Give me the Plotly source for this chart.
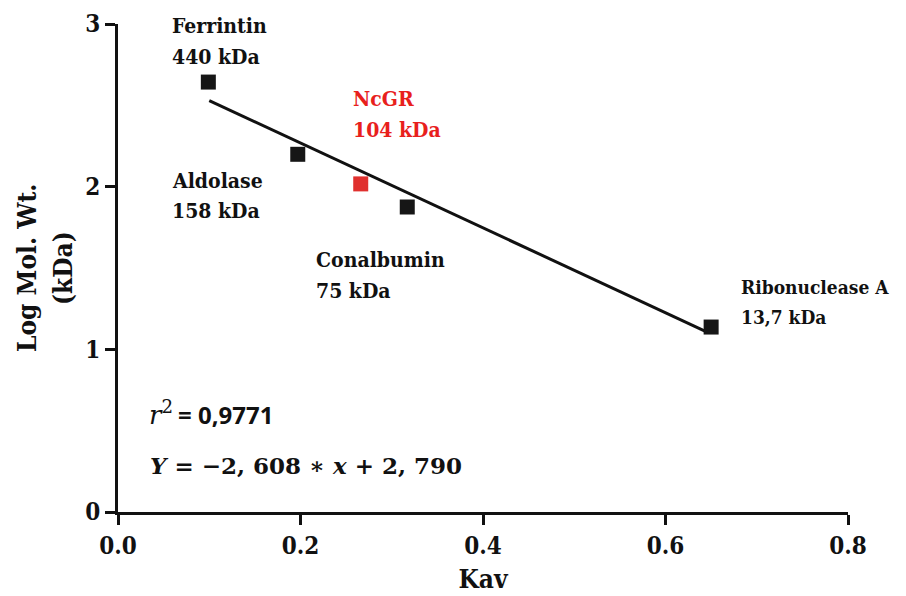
import plotly.graph_objects as go

# Data
proteins = ["Ferrintin", "Aldolase", "NcGR", "Conalbumin", "Ribonuclease A"]
mass_labels = ["440 kDa", "158 kDa", "104 kDa", "75 kDa", "13,7 kDa"]
kav = [0.099, 0.197, 0.266, 0.317, 0.650]
log_mw = [2.643, 2.199, 2.017, 1.875, 1.137]
colors = ["#161616", "#161616", "#e0302e", "#161616", "#161616"]
slope = -2.608
intercept = 2.790
fit_x = [0.1, 0.645]
fit_y = [slope * v + intercept for v in fit_x]

SERIF = "DejaVu Serif Condensed, DejaVu Serif"

fig = go.Figure()
fig.add_trace(go.Scatter(x=fit_x, y=fit_y, mode="lines",
                         line=dict(color="#111111", width=3), showlegend=False,
                         hoverinfo="skip"))
fig.add_trace(go.Scatter(x=kav, y=log_mw, mode="markers",
                         marker=dict(symbol="square", size=15, color=colors),
                         showlegend=False, cliponaxis=False))

label_pos = {
    "Ferrintin": (0.057, 2.99, 21),
    "Aldolase": (0.057, 2.04, 21),
    "NcGR": (0.2555, 2.54, 21),
    "Conalbumin": (0.215, 1.55, 21),
    "Ribonuclease A": (0.681, 1.385, 19),
}
line_gap = 0.187
annotations = []
for name, mass, col in zip(proteins, mass_labels, colors):
    x0, y0, fs = label_pos[name]
    tc = "#e8201c" if name == "NcGR" else "#111111"
    for i, t in enumerate([name, mass]):
        annotations.append(dict(x=x0, y=y0 - i * line_gap, xref="x", yref="y",
                                text=f"<b>{t}</b>", showarrow=False,
                                xanchor="left", yanchor="middle",
                                font=dict(family=SERIF, size=fs, color=tc)))

annotations.append(dict(x=0.032, y=0.61, xref="x", yref="y",
                        text="<i>r</i><sup>2</sup>", showarrow=False,
                        xanchor="left", yanchor="middle",
                        font=dict(family="DejaVu Serif", size=26, color="#111111")))
annotations.append(dict(x=0.064, y=0.60, xref="x", yref="y",
                        text="<b>= 0,9771</b>", showarrow=False,
                        xanchor="left", yanchor="middle",
                        font=dict(family="Open Sans", size=24, color="#111111")))
annotations.append(dict(x=0.033, y=0.285, xref="x", yref="y",
                        text="<b><i>Y</i> = −2, 608 ∗ <i>x</i> + 2, 790</b>", showarrow=False,
                        xanchor="left", yanchor="middle",
                        font=dict(family="DejaVu Serif", size=23, color="#111111")))

annotations.append(dict(x=-0.1247, y=0.5, xref="paper", yref="paper",
                        text="<b>Log Mol. Wt.</b>", showarrow=False, textangle=-90,
                        xanchor="center", yanchor="middle",
                        font=dict(family=SERIF, size=26, color="#111111")))
annotations.append(dict(x=-0.0753, y=0.5, xref="paper", yref="paper",
                        text="<b>(kDa)</b>", showarrow=False, textangle=-90,
                        xanchor="center", yanchor="middle",
                        font=dict(family=SERIF, size=26, color="#111111")))

fig.update_layout(
    width=898, height=588,
    margin=dict(l=110, r=58, t=16, b=84),
    paper_bgcolor="white", plot_bgcolor="white",
    annotations=annotations,
    xaxis=dict(range=[0, 0.8], tickvals=[0, 0.2, 0.4, 0.6, 0.8],
               ticktext=["<b>0.0</b>", "<b>0.2</b>", "<b>0.4</b>", "<b>0.6</b>", "<b>0.8</b>"],
               showline=True, linecolor="#111111", linewidth=3, automargin=False,
               ticks="outside", ticklen=10, tickwidth=3, tickcolor="#111111",
               showgrid=False, zeroline=False,
               tickfont=dict(family=SERIF, size=24, color="#111111"),
               title=dict(text="<b>Kav</b>", standoff=12,
                          font=dict(family=SERIF, size=26, color="#111111"))),
    yaxis=dict(range=[0, 3], tickvals=[0, 1, 2, 3],
               ticktext=["<b>0</b>", "<b>1</b>", "<b>2</b>", "<b>3</b>"],
               showline=True, linecolor="#111111", linewidth=3, automargin=False,
               ticks="outside", ticklen=10, tickwidth=3, tickcolor="#111111",
               showgrid=False, zeroline=False,
               tickfont=dict(family=SERIF, size=24, color="#111111")),
)

fig.write_html("out.html")
